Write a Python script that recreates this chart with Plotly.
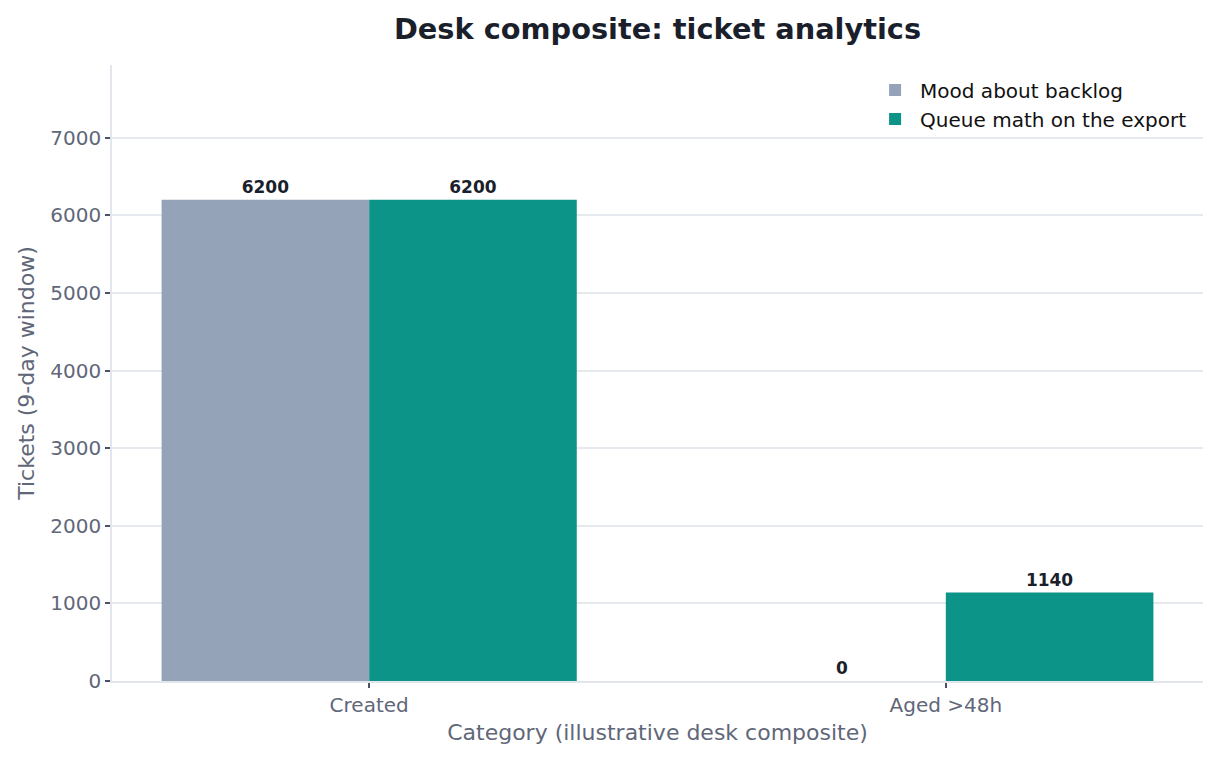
import plotly.graph_objects as go

# ---------------------------------------------------------------------------
# Data
# ---------------------------------------------------------------------------

categories = ["Created", "Aged >48h"]
mood_values = [6200, 0]
queue_values = [6200, 1140]
series_names = ["Mood about backlog", "Queue math on the export"]
y_ticks = [0, 1000, 2000, 3000, 4000, 5000, 6000, 7000]

GRAY = "#94a3b8"
TEAL = "#0d9488"
INK = "#1b1f2c"
MUTED = "#5f6779"
FONT = "DejaVu Sans, sans-serif"

fig = go.Figure()
for name, vals, col in [
    (series_names[0], mood_values, GRAY),
    (series_names[1], queue_values, TEAL),
]:
    fig.add_trace(go.Bar(
        x=categories, y=vals, name=name,
        marker=dict(color=col, line_width=0),
        text=[str(v) for v in vals],
        textposition="outside",
        cliponaxis=False,
        textfont=dict(family=FONT, size=17, color=INK, weight="bold"),
    ))

fig.update_layout(
    width=1219, height=760,
    barmode="group", bargap=0.28, bargroupgap=0,
    plot_bgcolor="white", paper_bgcolor="white",
    font=dict(family=FONT, color=MUTED),
    margin=dict(l=104, r=24, t=57, b=87),
    title=dict(
        text="<b>Desk composite: ticket analytics</b>",
        xref="paper", x=0.5, xanchor="center", y=0.972, yanchor="middle",
        font=dict(family=FONT, size=28.8, color=INK),
    ),
    legend=dict(
        x=0.99, y=0.991, xanchor="right", yanchor="top",
        bgcolor="rgba(0,0,0,0)",
        font=dict(family=FONT, size=20, color="#111111"),
        itemwidth=40, tracegroupgap=2,
    ),
)
fig.update_xaxes(
    type="category",
    range=[-0.446, 1.446],
    showgrid=False,
    showline=True, linecolor="#e2e6ec", linewidth=1.5,
    ticks="outside", ticklen=5, tickcolor="#4b5263", tickwidth=1.5,
    tickfont=dict(family=FONT, size=20, color=MUTED),
    title=dict(text="Category (illustrative desk composite)",
               font=dict(family=FONT, size=22, color=MUTED), standoff=9),
)
fig.update_yaxes(
    range=[0, 7936],
    tickvals=y_ticks,
    showgrid=True, gridcolor="#e6e9ee", gridwidth=1.5,
    zeroline=False,
    showline=True, linecolor="#e2e6ec", linewidth=1.5,
    ticks="outside", ticklen=5, tickcolor="#4b5263", tickwidth=1.5,
    tickfont=dict(family=FONT, size=20, color=MUTED),
    title=dict(text="Tickets (9-day window)",
               font=dict(family=FONT, size=22, color=MUTED), standoff=10),
)

fig.write_html("out.html")
